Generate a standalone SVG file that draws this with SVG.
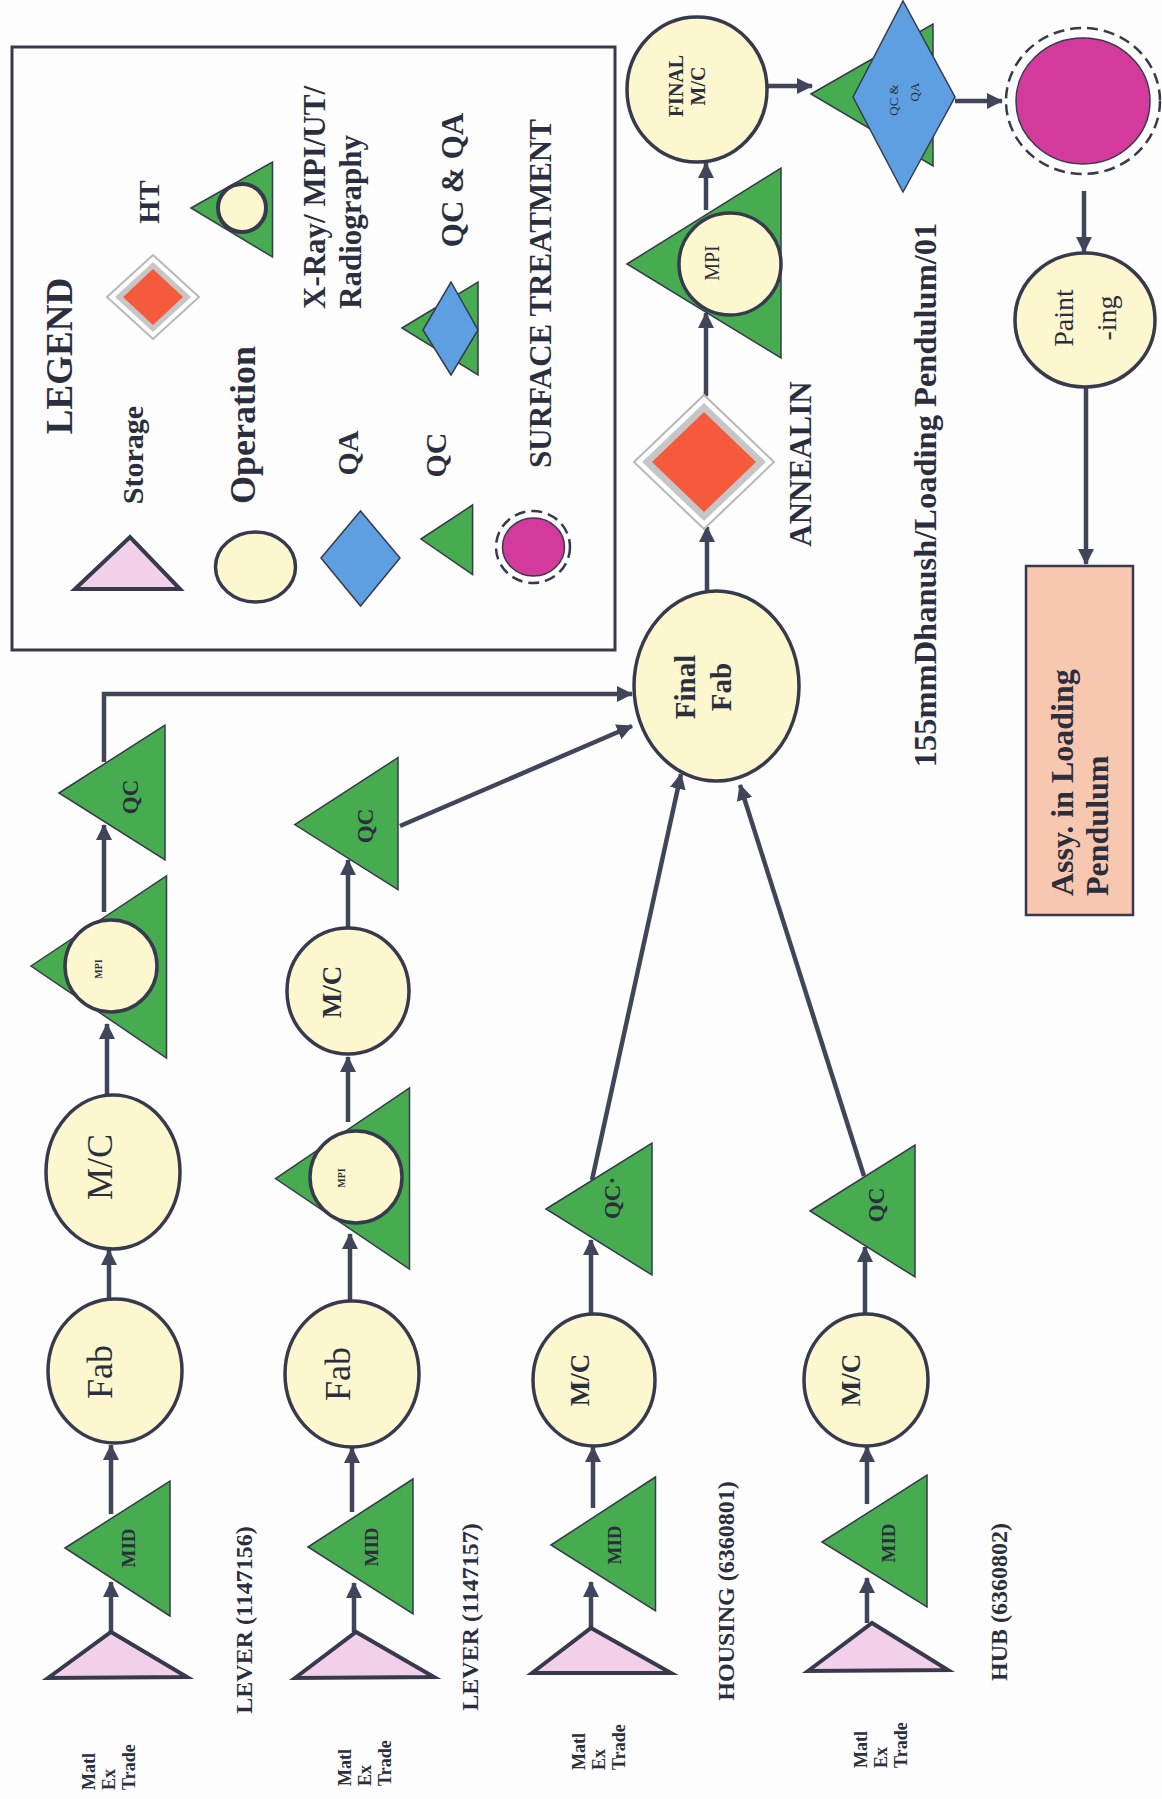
<svg xmlns="http://www.w3.org/2000/svg" width="1162" height="1799" viewBox="0 0 1162 1799">
<style>
text{font-family:"Liberation Serif","Times New Roman",serif;fill:#2b2e3c;text-anchor:middle;dominant-baseline:central}
.b{font-weight:bold}
.st{text-anchor:start}
.op{fill:#fcf7cf;stroke:#363a4c;stroke-width:3.5}
.qc{fill:#47ab50;stroke:#363a4c;stroke-width:1.5}
.pk{fill:#f3d0ea;stroke:#363a4c;stroke-width:4}
.qa{fill:#5d9fe0;stroke:#363a4c;stroke-width:1.5}
.mg{fill:#d4399c;stroke:#363a4c;stroke-width:1.5}
.dash{fill:none;stroke:#363a4c;stroke-width:2.5;stroke-dasharray:11 6}
.htw{fill:#ffffff;stroke:#b8b8b8;stroke-width:2}
.htg{fill:#c6c6c6}
.htr{fill:#f55a3c}
.cn{fill:none;stroke:#40455a;stroke-width:4.5}
.mid{font-weight:bold;font-size:19px}
.qct{font-weight:bold;font-size:23px}
.mat{font-weight:bold;font-size:18px;text-anchor:start}
</style>
<defs>
<marker id="ah" markerUnits="userSpaceOnUse" markerWidth="16" markerHeight="16" refX="15" refY="8" orient="auto">
<path d="M0,0 L16,8 L0,16 z" fill="#40455a"/>
</marker>
</defs>
<rect width="1162" height="1799" fill="#fdfdfe"/>

<g id="legend">
<rect x="12" y="47" width="603" height="603" fill="none" stroke="#363a4c" stroke-width="3"/>
<text class="b" font-size="37" transform="translate(59,356) rotate(-90)">LEGEND</text>
<polygon class="pk" points="75,589 130,537 180,589"/>
<text class="b" font-size="30" transform="translate(132,455) rotate(-90)">Storage</text>
<polygon class="htw" points="107,297 153,255 199,297 153,339"/>
<polygon class="htg" points="115,297 153,262 191,297 153,332"/>
<polygon class="htr" points="123,297 153,269 183,297 153,325"/>
<text class="b" font-size="30" transform="translate(148,202) rotate(-90)">HT</text>
<ellipse class="op" cx="255.5" cy="567" rx="40" ry="35"/>
<text class="b" font-size="36" transform="translate(243,425) rotate(-90)">Operation</text>
<polygon class="qc" points="191,208 272.5,162 272.5,257"/>
<circle cx="242" cy="208" r="24" fill="#fcf7cf" stroke="#363a4c" stroke-width="4"/>
<text class="b st" font-size="31" transform="translate(314,309) rotate(-90)">X-Ray/ MPI/UT/</text>
<text class="b st" font-size="31" transform="translate(350,309) rotate(-90)">Radiography</text>
<polygon class="qa" points="321,558 360.5,511 400,558 360.5,606"/>
<text class="b" font-size="30" transform="translate(347,453) rotate(-90)">QA</text>
<polygon class="qc" points="421,539 472.6,505 472.6,574.5"/>
<text class="b" font-size="30" transform="translate(435,455) rotate(-90)">QC</text>
<polygon class="qc" points="402,328 478,282 478,375"/>
<polygon class="qa" points="423,330 451,282 478,330 451,375"/>
<text class="b" font-size="31" transform="translate(452,180) rotate(-90)">QC &amp; QA</text>
<ellipse class="mg" cx="533.5" cy="547" rx="31" ry="29"/>
<ellipse class="dash" cx="533" cy="547" rx="37" ry="36"/>
<text class="b" font-size="31" transform="translate(540,293.5) rotate(-90)">SURFACE TREATMENT</text>
</g>

<g id="connectors">
<line class="cn" x1="111" y1="1632" x2="111" y2="1582" marker-end="url(#ah)"/>
<line class="cn" x1="111" y1="1514" x2="111" y2="1445" marker-end="url(#ah)"/>
<line class="cn" x1="109" y1="1299" x2="109" y2="1250" marker-end="url(#ah)"/>
<line class="cn" x1="107" y1="1094" x2="107" y2="1024" marker-end="url(#ah)"/>
<line class="cn" x1="104" y1="912" x2="104" y2="825" marker-end="url(#ah)"/>
<path class="cn" d="M104,762 V694 H632" marker-end="url(#ah)"/>
<line class="cn" x1="400" y1="826" x2="632" y2="726" marker-end="url(#ah)"/>
<line class="cn" x1="348" y1="928" x2="348" y2="860" marker-end="url(#ah)"/>
<line class="cn" x1="348" y1="1122" x2="348" y2="1057" marker-end="url(#ah)"/>
<line class="cn" x1="350" y1="1300" x2="350" y2="1234" marker-end="url(#ah)"/>
<line class="cn" x1="352" y1="1512" x2="352" y2="1448" marker-end="url(#ah)"/>
<line class="cn" x1="354" y1="1632" x2="354" y2="1583" marker-end="url(#ah)"/>
<line class="cn" x1="591" y1="1628" x2="591" y2="1582" marker-end="url(#ah)"/>
<line class="cn" x1="593" y1="1508" x2="593" y2="1447" marker-end="url(#ah)"/>
<line class="cn" x1="591" y1="1314" x2="591" y2="1240" marker-end="url(#ah)"/>
<line class="cn" x1="592" y1="1180" x2="681" y2="774" marker-end="url(#ah)"/>
<line class="cn" x1="867" y1="1623" x2="867" y2="1578" marker-end="url(#ah)"/>
<line class="cn" x1="867" y1="1504" x2="867" y2="1447" marker-end="url(#ah)"/>
<line class="cn" x1="865" y1="1314" x2="865" y2="1247" marker-end="url(#ah)"/>
<line class="cn" x1="864" y1="1176" x2="740" y2="785" marker-end="url(#ah)"/>
<line class="cn" x1="707" y1="591" x2="707" y2="527" marker-end="url(#ah)"/>
<line class="cn" x1="706" y1="396" x2="706" y2="313" marker-end="url(#ah)"/>
<line class="cn" x1="706" y1="210" x2="706" y2="163" marker-end="url(#ah)"/>
<line class="cn" x1="767" y1="86" x2="812" y2="86" marker-end="url(#ah)"/>
<line class="cn" x1="955" y1="101" x2="1002" y2="101" marker-end="url(#ah)"/>
<line class="cn" x1="1084" y1="191" x2="1084" y2="252" marker-end="url(#ah)"/>
<line class="cn" x1="1086" y1="388" x2="1086" y2="564" marker-end="url(#ah)"/>
</g>

<g id="lever1">
<polygon class="pk" points="48,1678 111,1632 187,1677"/>
<polygon class="qc" points="65,1548 170,1481 170,1616"/>
<text class="mid" transform="translate(128,1548) rotate(-90)">MID</text>
<ellipse class="op" cx="115" cy="1371" rx="67" ry="72"/>
<text font-size="36" transform="translate(100,1372) rotate(-90)">Fab</text>
<ellipse class="op" cx="113" cy="1172" rx="67" ry="77"/>
<text font-size="36" transform="translate(100,1167) rotate(-90)">M/C</text>
<polygon class="qc" points="31,966 166.5,876 166.5,1058"/>
<circle class="op" cx="111" cy="966" r="46"/>
<text class="b" font-size="10" transform="translate(98,969) rotate(-90)">MPI</text>
<polygon class="qc" points="59,793 165,725 165,860"/>
<text class="qct" transform="translate(130,797) rotate(-90)">QC</text>
<text class="b" font-size="24" transform="translate(244,1620) rotate(-90)">LEVER (1147156)</text>
<text class="mat" transform="translate(89,1790) rotate(-90)">Matl</text>
<text class="mat" transform="translate(109,1790) rotate(-90)">Ex</text>
<text class="mat" transform="translate(129,1790) rotate(-90)">Trade</text>
</g>

<g id="lever2">
<polygon class="pk" points="295,1678 356,1632 434,1677"/>
<polygon class="qc" points="308,1547 413,1479 413,1614"/>
<text class="mid" transform="translate(371,1547) rotate(-90)">MID</text>
<ellipse class="op" cx="352" cy="1374" rx="67" ry="73"/>
<text font-size="36" transform="translate(338,1374) rotate(-90)">Fab</text>
<polygon class="qc" points="275.5,1178.6 409.5,1088 409.5,1269"/>
<circle class="op" cx="356" cy="1177" r="46"/>
<text class="b" font-size="10" transform="translate(341,1178) rotate(-90)">MPI</text>
<ellipse class="op" cx="348" cy="991" rx="61" ry="63"/>
<text class="b" font-size="27" transform="translate(332,992) rotate(-90)">M/C</text>
<polygon class="qc" points="294.7,824.6 398,757.6 398,889.6"/>
<text class="qct" transform="translate(365,826) rotate(-90)">QC</text>
<text class="b" font-size="24" transform="translate(470,1617) rotate(-90)">LEVER (1147157)</text>
<text class="mat" transform="translate(345,1786) rotate(-90)">Matl</text>
<text class="mat" transform="translate(365,1786) rotate(-90)">Ex</text>
<text class="mat" transform="translate(385,1786) rotate(-90)">Trade</text>
</g>

<g id="housing">
<polygon class="pk" points="532,1673 591,1628 671,1673"/>
<polygon class="qc" points="551,1545 655.5,1477 655.5,1611"/>
<text class="mid" transform="translate(614,1545) rotate(-90)">MID</text>
<ellipse class="op" cx="594" cy="1380" rx="61" ry="66"/>
<text class="b" font-size="27" transform="translate(580,1380) rotate(-90)">M/C</text>
<polygon class="qc" points="546,1209 652,1143 652,1275"/>
<text class="qct" transform="translate(612,1198) rotate(-90)">QC·</text>
<text class="b" font-size="24" transform="translate(726,1591) rotate(-90)">HOUSING (6360801)</text>
<text class="mat" transform="translate(579,1770) rotate(-90)">Matl</text>
<text class="mat" transform="translate(599,1770) rotate(-90)">Ex</text>
<text class="mat" transform="translate(619,1770) rotate(-90)">Trade</text>
</g>

<g id="hub">
<polygon class="pk" points="808,1671 872,1623 948,1670"/>
<polygon class="qc" points="822,1542 927,1475 927,1607"/>
<text class="mid" transform="translate(888,1543) rotate(-90)">MID</text>
<ellipse class="op" cx="866" cy="1380" rx="62" ry="66"/>
<text class="b" font-size="27" transform="translate(851,1380) rotate(-90)">M/C</text>
<polygon class="qc" points="810,1211 915,1145 915,1277"/>
<text class="qct" transform="translate(876,1205) rotate(-90)">QC</text>
<text class="b" font-size="24" transform="translate(999,1602) rotate(-90)">HUB (6360802)</text>
<text class="mat" transform="translate(861,1768) rotate(-90)">Matl</text>
<text class="mat" transform="translate(881,1768) rotate(-90)">Ex</text>
<text class="mat" transform="translate(901,1768) rotate(-90)">Trade</text>
</g>

<g id="final-fab">
<ellipse class="op" cx="716.5" cy="686" rx="82.5" ry="95"/>
<text class="b" font-size="29" transform="translate(685,687) rotate(-90)">Final</text>
<text class="b" font-size="29" transform="translate(721,687) rotate(-90)">Fab</text>
</g>

<g id="annealing">
<polygon class="htw" points="634,462 704,395 774,462 704,529"/>
<polygon class="htg" points="642,462 704,403 766,462 704,521"/>
<polygon class="htr" points="652,462 704,412 756,462 704,512"/>
<text class="b" font-size="31" transform="translate(800,464) rotate(-90)">ANNEALIN</text>
</g>

<g id="mpi-final">
<polygon class="qc" points="627,264 781,168 781,358"/>
<circle class="op" cx="730" cy="264" r="51"/>
<text font-size="20" transform="translate(712,263) rotate(-90)">MPI</text>
</g>

<g id="final-mc">
<ellipse class="op" cx="697" cy="89.5" rx="70" ry="72.5"/>
<text class="b" font-size="20" transform="translate(676,86) rotate(-90)">FINAL</text>
<text class="b" font-size="20" transform="translate(698,86) rotate(-90)">M/C</text>
</g>

<g id="qc-qa">
<polygon class="qc" points="811,94 933,24 933,166"/>
<polygon class="qa" points="853,97 903,1 955,97 903,192"/>
<text font-size="13" transform="translate(893,100) rotate(-90)">QC &amp;</text>
<text font-size="13" transform="translate(914,92) rotate(-90)">QA</text>
</g>

<g id="surface-treatment">
<ellipse class="mg" cx="1083" cy="101" rx="67" ry="63"/>
<ellipse class="dash" cx="1083" cy="101" rx="77" ry="73"/>
</g>

<g id="painting">
<ellipse class="op" cx="1085" cy="320" rx="70" ry="67"/>
<text font-size="28" transform="translate(1063,318) rotate(-90)">Paint</text>
<text font-size="28" transform="translate(1106,318) rotate(-90)">-ing</text>
</g>

<g id="assy">
<rect x="1026" y="566" width="107" height="349" fill="#f8c7b0" stroke="#363a4c" stroke-width="2.5"/>
<text class="b st" font-size="32" transform="translate(1062,896) rotate(-90)">Assy. in Loading</text>
<text class="b st" font-size="32" transform="translate(1097,896) rotate(-90)">Pendulum</text>
</g>

<g id="title">
<text class="b" font-size="32.5" transform="translate(925,495) rotate(-90)">155mmDhanush/Loading Pendulum/01</text>
</g>
</svg>
